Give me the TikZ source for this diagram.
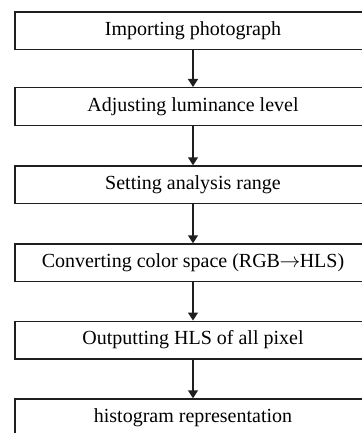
\documentclass[tikz,border=0pt]{standalone}
\usepackage{fontspec}
\setmainfont{Liberation Serif}
\usetikzlibrary{arrows.meta}
\begin{document}
\begin{tikzpicture}[x=1pt,y=-1pt,
  stepbox/.style={draw=black!88, line width=1.5pt, minimum width=356pt,
    minimum height=37.5pt, inner sep=0pt, font=\fontsize{20}{24}\selectfont},
  flow/.style={draw=black!88, line width=1.5pt,
    -{Triangle[width=10pt,length=8pt]}}]
\useasboundingbox (0,0) rectangle (361,433);
\node[stepbox] (s1) at (193,30.75)  {Importing photograph};
\node[stepbox] (s2) at (193,106.5)  {Adjusting luminance level};
\node[stepbox] (s3) at (193,184.75) {Setting analysis range};
\node[stepbox] (s4) at (193,262.75) {Converting color space (RGB\kern-0.5pt$\rightarrow$\kern-0.5pt HLS)};
\node[stepbox] (s5) at (193,340)    {Outputting HLS of all pixel};
\node[stepbox] (s6) at (193,417.75) {histogram representation};
\foreach \a/\b in {s1/s2,s2/s3,s3/s4,s4/s5,s5/s6}
  \draw[flow] (\a.south) -- (\b.north);
\end{tikzpicture}
\end{document}
